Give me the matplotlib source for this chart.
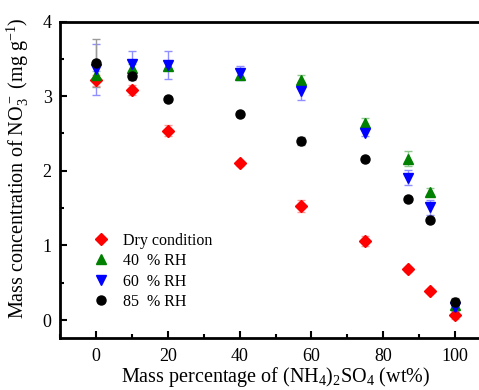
import numpy as np
import matplotlib.pyplot as plt
from matplotlib.ticker import MultipleLocator

plt.rcParams['font.family'] = ['Liberation Serif', 'DejaVu Serif']
plt.rcParams['mathtext.fontset'] = 'custom'
plt.rcParams['mathtext.rm'] = 'Liberation Serif'
plt.rcParams['mathtext.it'] = 'Liberation Serif:italic'

# mass percentage of (NH4)2SO4
x = [0, 10, 20, 40, 57, 75, 87, 93, 100]

dry = [3.21, 3.08, 2.54, 2.10, 1.53, 1.06, 0.68, 0.39, 0.07]
dry_err = [0.07, 0.07, 0.08, 0.03, 0.08, 0.07, 0.03, 0.03, 0.05]

rh40 = [3.29, 3.38, 3.41, 3.29, 3.21, 2.64, 2.16, 1.72, 0.20]
rh40_err = [0.05, 0.05, 0.05, 0.05, 0.08, 0.07, 0.10, 0.05, 0.07]

rh60 = [3.36, 3.43, 3.42, 3.31, 3.07, 2.51, 1.91, 1.51, 0.17]
rh60_err = [0.34, 0.18, 0.19, 0.09, 0.12, 0.05, 0.10, 0.10, 0.05]

rh85 = [3.44, 3.27, 2.96, 2.76, 2.40, 2.16, 1.62, 1.34, 0.24]
rh85_err = [0.32, 0.05, 0.03, 0.03, 0.05, 0.03, 0.03, 0.03, 0.05]

fig = plt.figure(figsize=(4.79, 3.9), dpi=100)
ax = fig.add_axes([0.1253, 0.1333, 0.8998, 0.8115])

series = [
    (dry, dry_err, 'D', 'red', '#ff9a9a', 6, 'Dry condition'),
    (rh40, rh40_err, '^', 'green', '#8fc98f', 7, '40  % RH'),
    (rh60, rh60_err, 'v', 'blue', '#8f8fff', 7, '60  % RH'),
    (rh85, rh85_err, 'o', 'black', '#9a9a9a', 6.5, '85  % RH'),
]
for y, e, m, c, ec, ms, lab in series:
    ax.errorbar(x, y, yerr=e, fmt=m, color=c, ecolor=ec, ms=ms,
                mec=c, elinewidth=1, capsize=3, capthick=1, label=lab)

ax.set_xlim(-10, 110)
ax.set_ylim(-0.24, 4)
ax.xaxis.set_major_locator(MultipleLocator(20))
ax.xaxis.set_minor_locator(MultipleLocator(10))
ax.yaxis.set_major_locator(MultipleLocator(1))
ax.yaxis.set_minor_locator(MultipleLocator(0.5))
ax.tick_params(which='both', direction='in', width=1.5, labelsize=13)
ax.tick_params(which='major', length=5)
ax.tick_params(which='minor', length=3)
ax.tick_params(axis='x', pad=7)
ax.tick_params(axis='y', pad=6)
for s in ax.spines.values():
    s.set_linewidth(2)

ax.set_xlabel(r'Mass percentage of (NH$_4$)$_2$SO$_4$ (wt%)', fontsize=14.5, labelpad=0)
ax.set_ylabel(r'Mass concentration of NO$_3^-$ (mg g$^{-1}$)', fontsize=14.5)
ax.yaxis.set_label_coords(-0.068, 0.535)

handles, labels = ax.get_legend_handles_labels()
handles = [h[0] for h in handles]
ax.legend(handles, labels, loc='lower left', bbox_to_anchor=(0.04, 0.043),
          frameon=False, fontsize=11.5, handletextpad=0.75, labelspacing=0.28,
          handlelength=1.2)

fig.savefig('out.png', dpi=100)
